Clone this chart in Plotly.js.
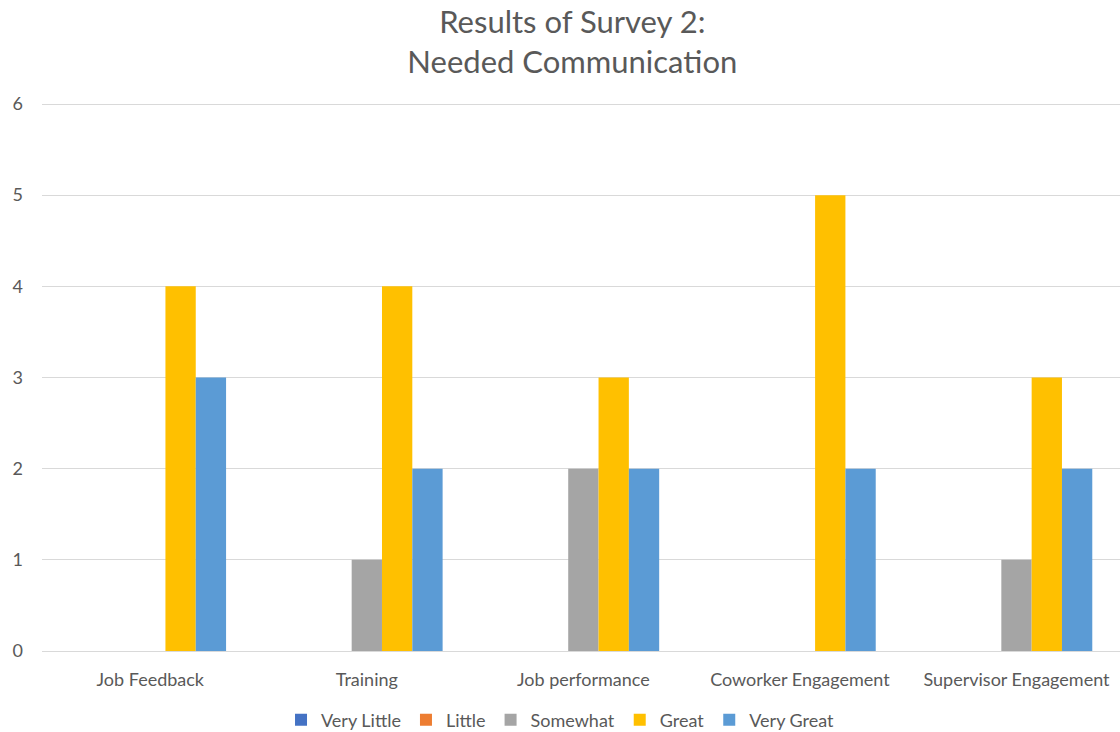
<!DOCTYPE html>
<html>
<head>
<meta charset="utf-8">
<script src="https://cdn.plot.ly/plotly-3.0.1.min.js"></script>
<style>html,body{margin:0;padding:0;background:#fff;}#chart{width:1120px;height:732px;}</style>
</head>
<body>
<div id="chart"></div>
<script>
const categories = ["Job Feedback", "Training", "Job performance", "Coworker Engagement", "Supervisor Engagement"];
const seriesNames = ["Very Little", "Little", "Somewhat", "Great", "Very Great"];
const veryLittle = [0, 0, 0, 0, 0];
const little = [0, 0, 0, 0, 0];
const somewhat = [0, 1, 2, 0, 1];
const great = [4, 4, 3, 5, 3];
const veryGreat = [3, 2, 2, 2, 2];
const yTicks = [0, 1, 2, 3, 4, 5, 6];

const colors = ["#4472C4", "#ED7D31", "#A5A5A5", "#FFC000", "#5B9BD5"];
const values = [veryLittle, little, somewhat, great, veryGreat];
const font = "Lato, 'Open Sans', sans-serif";

const traces = values.map((v, i) => ({
  type: "bar",
  name: seriesNames[i],
  x: categories,
  y: v,
  marker: {color: colors[i], line: {width: 0}},
  hoverinfo: "x+y+name"
}));

const layout = {
  width: 1120,
  height: 732,
  paper_bgcolor: "#ffffff",
  plot_bgcolor: "#ffffff",
  margin: {l: 42, r: 0, t: 102, b: 81, pad: 0},
  barmode: "group",
  bargap: 0.30,
  bargroupgap: 0,
  font: {family: font, color: "#595959"},
  title: {
    text: "Results of Survey 2:<br>Needed Communication",
    font: {family: font, size: 31, color: "#595959"},
    x: 0.511, xanchor: "center",
    y: 1 - 33 / 732, yanchor: "middle", yref: "container"
  },
  xaxis: {
    type: "category",
    range: [-0.5, 4.478],
    showgrid: false,
    showline: true,
    linecolor: "#D9D9D9",
    linewidth: 1,
    ticks: "",
    ticklabelstandoff: 12,
    tickfont: {family: font, size: 18, color: "#595959"},
    automargin: false,
    fixedrange: true
  },
  yaxis: {
    range: [0, 6.022],
    tickvals: yTicks,
    ticktext: yTicks.map(String),
    showgrid: true,
    gridcolor: "#D9D9D9",
    gridwidth: 1,
    zeroline: false,
    showline: false,
    ticks: "",
    ticklabelstandoff: 18,
    tickfont: {family: font, size: 18, color: "#595959"},
    automargin: false,
    fixedrange: true
  },
  legend: {
    orientation: "h",
    x: 0.481, xanchor: "center",
    xref: "paper",
    y: 12 / 732, yanchor: "middle",
    yref: "container",
    font: {family: font, size: 18, color: "#595959"},
    itemwidth: 30,
    traceorder: "normal"
  },
  showlegend: true
};

Plotly.newPlot("chart", traces, layout, {displayModeBar: false, staticPlot: true});
</script>
</body>
</html>
